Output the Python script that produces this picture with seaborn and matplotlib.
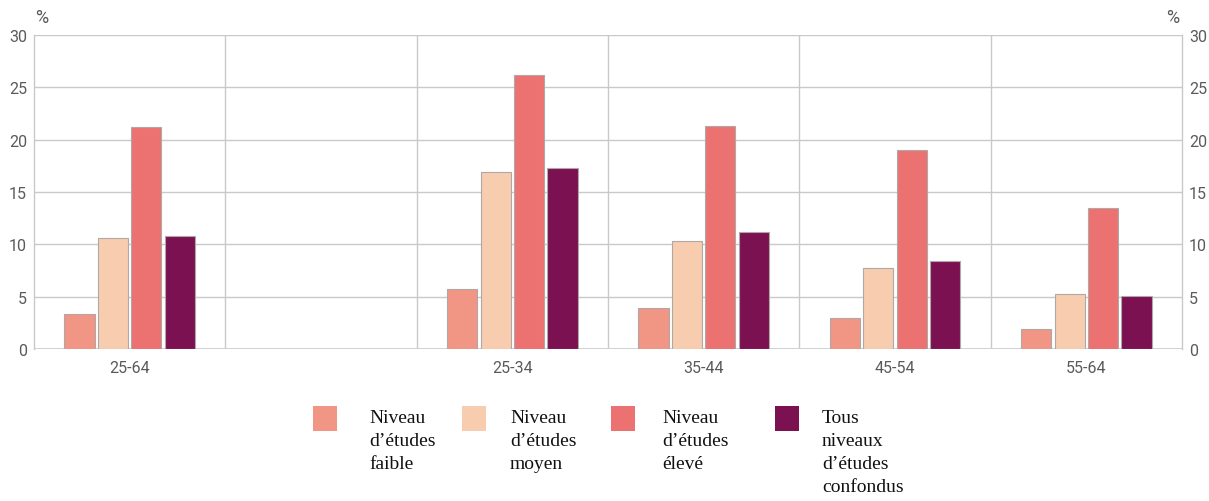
import matplotlib
matplotlib.use("Agg")
import matplotlib.pyplot as plt
import seaborn as sns
import pandas as pd
from matplotlib.patches import Rectangle

# --- DONNEES ---
AGES = ["25-64", " ", "25-34", "35-44", "45-54", "55-64"]
NIVEAUX = ["Niveau\nd’études\nfaible", "Niveau\nd’études\nmoyen",
           "Niveau\nd’études\nélevé", "Tous\nniveaux\nd’études\nconfondus"]
COULEURS = ["#F19684", "#F8CCAF", "#EC7271", "#7B1150"]

AGES_DATA = ["25-64", "25-34", "35-44", "45-54", "55-64"]
FAIBLE = [3.35, 5.7, 3.9, 3.0, 1.9]
MOYEN = [10.6, 16.9, 10.3, 7.7, 5.25]
ELEVE = [21.2, 26.2, 21.3, 19.0, 13.5]
TOUS = [10.8, 17.3, 11.2, 8.4, 5.1]

lignes = []
for niveau, valeurs in zip(NIVEAUX, [FAIBLE, MOYEN, ELEVE, TOUS]):
    for age, v in zip(AGES_DATA, valeurs):
        lignes.append({"age": age, "niveau": niveau, "valeur": v})
df = pd.DataFrame(lignes)

sns.set_style("white")
plt.rcParams["font.family"] = ["Roboto", "DejaVu Sans"]

GRIS = "#5a5a5a"
GRILLE = "#c9c9c9"

fig = plt.figure(figsize=(12.09, 5.02), dpi=100)
ax = fig.add_axes([34 / 1209, 1 - 350 / 502, (1182 - 34) / 1209, (350 - 36) / 502])

sns.barplot(data=df, x="age", y="valeur", hue="niveau", order=AGES,
            hue_order=NIVEAUX, palette=COULEURS, saturation=1, width=0.7, gap=0.1,
            edgecolor="#b0a8a6", linewidth=0.8, legend=False, ax=ax)

ax.set_xlim(-0.5, len(AGES) - 0.5)
ax.set_ylim(0, 30)
ax.set_yticks(range(0, 31, 5))
ax.set_xlabel("")
ax.set_ylabel("")

# grille
for y in range(5, 31, 5):
    ax.axhline(y, color=GRILLE, linewidth=1.0, zorder=0)
for x in range(1, len(AGES)):
    ax.axvline(x - 0.5, color=GRILLE, linewidth=1.0, zorder=0)
ax.axhline(0, color=GRILLE, linewidth=1.2, zorder=0)

for s in ["top", "bottom"]:
    ax.spines[s].set_visible(False)
for s in ["left", "right"]:
    ax.spines[s].set_color(GRILLE)
    ax.spines[s].set_linewidth(1.0)

ax.tick_params(axis="both", length=0, labelsize=11.5, colors=GRIS)
ax.tick_params(axis="x", pad=8)
ax.tick_params(axis="y", pad=5)

ax2 = ax.twinx()
ax2.set_ylim(0, 30)
ax2.set_yticks(range(0, 31, 5))
ax2.tick_params(axis="y", length=0, labelsize=11.5, colors=GRIS, pad=5)
for s in ax2.spines.values():
    s.set_visible(False)

fig.text(35 / 1209, 1 - 18 / 502, "%", fontsize=13, color=GRIS, va="center", ha="left")
fig.text(1179 / 1209, 1 - 18 / 502, "%", fontsize=13, color=GRIS, va="center", ha="right")

# legende
carres_x = [313, 462, 611, 775]
textes_x = [369, 510, 662, 822]
for cx, tx, coul, lab in zip(carres_x, textes_x, COULEURS, NIVEAUX):
    fig.patches.append(Rectangle((cx / 1209, 1 - 432 / 502), 24 / 1209, 25 / 502,
                                 transform=fig.transFigure, facecolor=coul,
                                 edgecolor="none"))
    fig.text(tx / 1209, 1 - 410 / 502, lab, fontsize=14, va="top", ha="left",
             family=["Liberation Serif", "DejaVu Serif"], color="#111111",
             linespacing=1.45)

plt.savefig("out.png", dpi=100)
